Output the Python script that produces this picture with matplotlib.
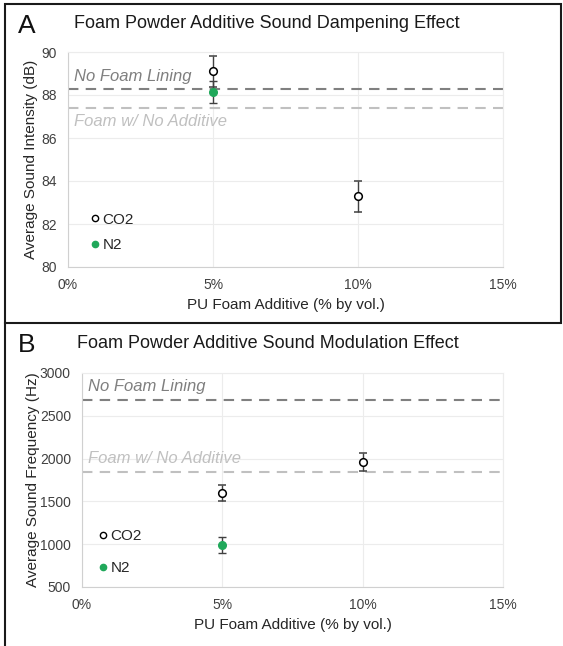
import matplotlib.pyplot as plt
from matplotlib.ticker import PercentFormatter
from matplotlib.lines import Line2D
from matplotlib.patches import Rectangle

plt.rcParams['font.family'] = ['Liberation Sans', 'DejaVu Sans']

# --- data ---
co2_pct = [0.05, 0.10]
n2_pct = [0.05]

co2_db = [89.1, 83.3]
co2_db_err = [0.72, 0.72]
n2_db = [88.15]
n2_db_err = [0.5]
no_foam_db = 88.27
no_add_db = 87.38

co2_hz = [1598, 1965]
co2_hz_err = [95, 105]
n2_hz = [990]
n2_hz_err = [97]
no_foam_hz = 2685
no_add_hz = 1845

green = '#20a85a'
err_col = '#404040'

fig = plt.figure(figsize=(5.63, 6.46), dpi=100)
axA = fig.add_axes([68/563, 1-267/646, 435/563, 215/646])
axB = fig.add_axes([82/563, 1-587/646, 421/563, 214/646])


def style(ax, ylim, yticks, ylabel, ypad):
    ax.set_xlim(0, 0.15)
    ax.set_xticks([0, 0.05, 0.10, 0.15])
    ax.xaxis.set_major_formatter(PercentFormatter(1, decimals=0))
    ax.set_ylim(*ylim)
    ax.set_yticks(yticks)
    ax.grid(True, color='#ececec', lw=0.8)
    ax.set_axisbelow(True)
    for s in ['top', 'right']:
        ax.spines[s].set_color('#ececec')
    for s in ['left', 'bottom']:
        ax.spines[s].set_color('#d0d0d0')
    ax.tick_params(length=0, labelsize=10, colors='#404040', pad=8)
    ax.set_xlabel('PU Foam Additive (% by vol.)', fontsize=11, color='#262626')
    ax.set_ylabel(ylabel, fontsize=11, color='#262626', labelpad=ypad)


def points(ax, co2_y, co2_e, n2_y, n2_e, anchor, spacing):
    ax.errorbar(co2_pct, co2_y, yerr=co2_e, fmt='o', mfc='white', mec='black',
                mew=1.1, ms=5.5, ecolor=err_col, elinewidth=1, capsize=3, zorder=4)
    ax.errorbar(n2_pct, n2_y, yerr=n2_e, fmt='o', mfc=green, mec=green,
                ms=5.5, ecolor=err_col, elinewidth=1, capsize=3, zorder=5)
    handles = [Line2D([], [], ls='none', marker='o', mfc='white', mec='black', ms=4.5, mew=1),
               Line2D([], [], ls='none', marker='o', mfc=green, mec=green, ms=4.5)]
    ax.legend(handles, ['CO2', 'N2'], loc='lower left', bbox_to_anchor=anchor,
              frameon=False, handlelength=0.6, handletextpad=0.2, labelspacing=spacing,
              fontsize=11, labelcolor='#262626')


# Panel A
style(axA, (80, 90), [80, 82, 84, 86, 88, 90], 'Average Sound Intensity (dB)', 2)
axA.axhline(no_foam_db, color='#808080', ls=(0, (5, 3.5)), lw=1.5, zorder=2)
axA.axhline(no_add_db, color='#c0c0c0', ls=(0, (5, 3.5)), lw=1.5, zorder=2)
axA.text(0.002, 88.87, 'No Foam Lining', style='italic', fontsize=12, color='#7f7f7f', va='center')
axA.text(0.002, 86.77, 'Foam w/ No Additive', style='italic', fontsize=12, color='#c0c0c0', va='center')
points(axA, co2_db, co2_db_err, n2_db, n2_db_err, (0.02, 0.005), 0.75)

# Panel B
style(axB, (500, 3000), [500, 1000, 1500, 2000, 2500, 3000], 'Average Sound Frequency (Hz)', 0)
axB.axhline(no_foam_hz, color='#808080', ls=(0, (5, 3.5)), lw=1.5, zorder=2)
axB.axhline(no_add_hz, color='#c0c0c0', ls=(0, (5, 3.5)), lw=1.5, zorder=2)
axB.text(0.002, 2844, 'No Foam Lining', style='italic', fontsize=12, color='#7f7f7f', va='center')
axB.text(0.002, 2004, 'Foam w/ No Additive', style='italic', fontsize=12, color='#c0c0c0', va='center')
points(axB, co2_hz, co2_hz_err, n2_hz, n2_hz_err, (0.006, -0.008), 1.15)

# titles and panel letters
fig.text(267/563, 1-24/646, 'Foam Powder Additive Sound Dampening Effect',
         ha='center', va='center', fontsize=13, color='#1a1a1a')
fig.text(268/563, 1-343/646, 'Foam Powder Additive Sound Modulation Effect',
         ha='center', va='center', fontsize=13, color='#1a1a1a')
fig.text(18/563, 1-26/646, 'A', ha='left', va='center', fontsize=19, color='#111111')
fig.text(18/563, 1-345/646, 'B', ha='left', va='center', fontsize=19, color='#111111')

# panel borders
fig.add_artist(Rectangle((5/563, 1-323/646), 556/563, 319/646, transform=fig.transFigure,
                         fill=False, ec='#1a1a1a', lw=1.5))
fig.add_artist(Line2D([5/563, 5/563], [0, 1-323/646], transform=fig.transFigure,
                      color='#1a1a1a', lw=1.5))

fig.savefig('out.png', dpi=100)
